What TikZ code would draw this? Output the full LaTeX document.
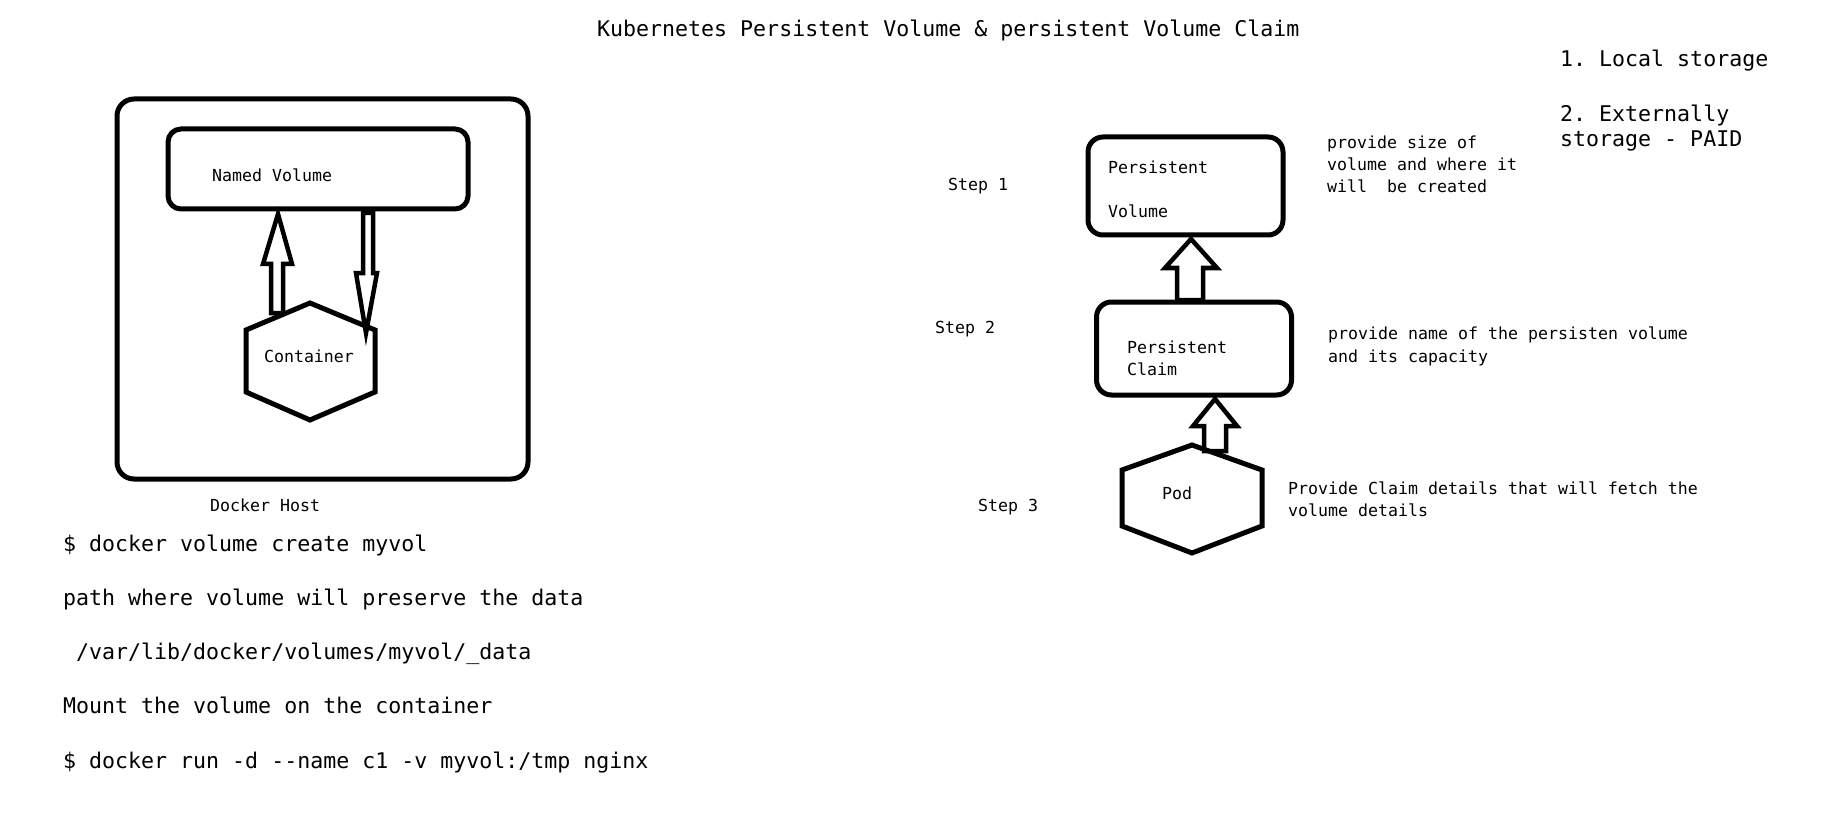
\documentclass[tikz,border=0pt]{standalone}
\usepackage{fontspec}
\newfontfamily\dmono{DejaVu Sans Mono}
\frenchspacing
\tikzset{
  lg/.style={font=\dmono\fontsize{21.6}{25}\selectfont\frenchspacing, inner sep=0pt, anchor=base west},
  sm/.style={font=\dmono\fontsize{16.6}{22}\selectfont\frenchspacing, inner sep=0pt, anchor=base west},
  smc/.style={sm, anchor=base},
  rbox/.style={draw, line width=5pt, inner sep=0pt, rectangle},
  blk/.style={draw, line width=4.5pt, fill=white, line join=miter},
  hexa/.style={draw, line width=5pt, line join=miter}
}
\begin{document}
\begin{tikzpicture}[x=1pt,y=-1pt]
\path[use as bounding box, fill=white] (0,0) rectangle (1829,821);

% title and storage notes
\node[lg] (title) at (597,37) {Kubernetes Persistent Volume \& persistent Volume Claim};
\node[lg] (st1) at (1560,66.5) {1. Local storage};
\node[lg] (st2) at (1560,121.5) {2. Externally};
\node[lg] (st3) at (1560,146.5) {storage - PAID};

% Docker host
\node[rbox, rounded corners=17pt, minimum width=411pt, minimum height=380pt] (host) at (322.5,289) {};
\node[rbox, rounded corners=13pt, minimum width=300pt, minimum height=80pt] (nv) at (318,169) {};
\node[sm] (nvt) at (212,182) {Named Volume};
\node[sm] (hostt) at (210,511) {Docker Host};

% block arrows container <-> named volume
\draw[blk] (278,214) -- (292,264) -- (283,264) -- (283,313) -- (271,313) -- (271,264) -- (263,264) -- cycle;
\draw[blk] (363,213) -- (373,213) -- (373,273) -- (377,273) -- (366,333) -- (356,273) -- (363,273) -- cycle;

% container hexagon
\draw[hexa] (310,303) -- (375,330) -- (375,392) -- (310,420) -- (246,392) -- (246,330) -- cycle;
\node[smc] (cont) at (309,362) {Container};

% docker commands
\node[lg] (c1) at (63,551.5) {\$ docker volume create myvol};
\node[lg] (c2) at (63,605.5) {path where volume will preserve the data};
\node[lg] (c3) at (63,659.5) {\ /var/lib/docker/volumes/myvol/\_data};
\node[lg] (c4) at (63,713.5) {Mount the volume on the container};
\node[lg] (c5) at (63,768.5) {\$ docker run -d --name c1 -v myvol:/tmp nginx};

% Kubernetes side
\node[sm] (s1) at (948,191) {Step 1};
\node[sm] (s2) at (935,333) {Step 2};
\node[sm] (s3) at (978,511) {Step 3};

\node[rbox, rounded corners=15pt, minimum width=195pt, minimum height=98pt] (pv) at (1185.5,186) {};
\node[sm] (pv1) at (1108,174) {Persistent};
\node[sm] (pv2) at (1108,218) {Volume};

\node[rbox, rounded corners=15pt, minimum width=195pt, minimum height=93pt] (pvc) at (1194,348.5) {};
\node[sm] (pvc1) at (1127,353) {Persistent};
\node[sm] (pvc2) at (1127,375) {Claim};

\draw[blk] (1191,239) -- (1217,268) -- (1203,268) -- (1203,300) -- (1177,300) -- (1177,268) -- (1165,268) -- cycle;
\draw[blk] (1215,399) -- (1237,426) -- (1226,426) -- (1226,451) -- (1204,451) -- (1204,426) -- (1193,426) -- cycle;

\draw[hexa] (1192,445) -- (1262,470) -- (1262,526) -- (1192,553) -- (1122,526) -- (1122,470) -- cycle;
\node[smc] (pod) at (1177,499) {Pod};

% descriptions
\node[sm] (d1a) at (1327,149) {provide size of};
\node[sm] (d1b) at (1327,171) {volume and where it};
\node[sm] (d1c) at (1327,193) {will\ \ be created};
\node[sm] (d2a) at (1328,339) {provide name of the persisten volume};
\node[sm] (d2b) at (1328,362) {and its capacity};
\node[sm] (d3a) at (1288,494) {Provide Claim details that will fetch the};
\node[sm] (d3b) at (1288,516) {volume details};
\end{tikzpicture}
\end{document}
